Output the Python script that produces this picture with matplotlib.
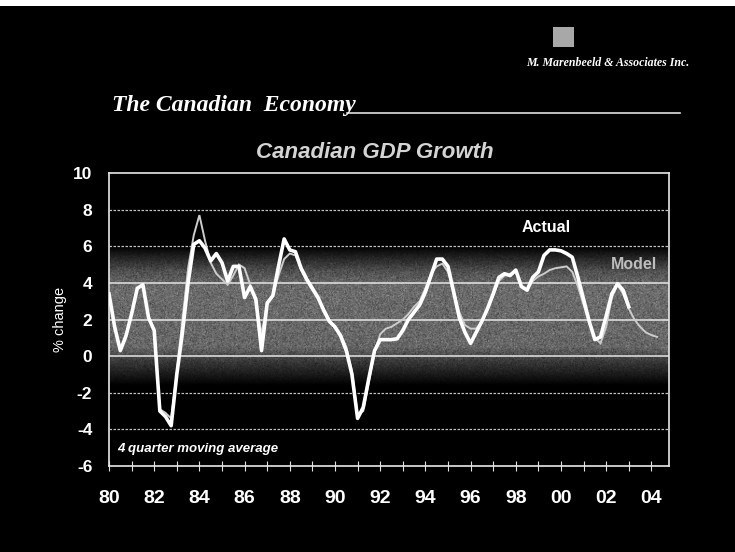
import numpy as np
import matplotlib
matplotlib.use("Agg")
import matplotlib.pyplot as plt
from matplotlib.lines import Line2D
from matplotlib.patches import Rectangle

# Four-quarter moving average of real GDP growth, % change
actual_start = 1980.0
actual = [
    3.4, 1.6, 0.3, 1.1,
    2.3, 3.7, 3.9, 2.1,
    1.4, -3.0, -3.3, -3.8,
    -1.0, 1.3, 4.0, 6.1,
    6.3, 5.9, 5.2, 5.6,
    5.1, 4.1, 4.9, 4.9,
    3.2, 3.8, 3.1, 0.3,
    2.9, 3.3, 4.9, 6.4,
    5.8, 5.7, 4.8, 4.2,
    3.7, 3.2, 2.5, 1.9,
    1.6, 1.1, 0.3, -1.0,
    -3.4, -2.8, -1.2, 0.3,
    0.9, 0.9, 0.9, 0.95,
    1.4, 2.0, 2.4, 2.8,
    3.5, 4.4, 5.3, 5.3,
    4.9, 3.5, 2.1, 1.3,
    0.7, 1.3, 1.9, 2.6,
    3.4, 4.3, 4.5, 4.4,
    4.7, 3.8, 3.6, 4.3,
    4.6, 5.5, 5.8, 5.8,
    5.75, 5.6, 5.4, 4.3,
    3.1, 1.9, 0.9, 1.05,
    2.2, 3.4, 3.95, 3.6,
    2.7,
]

model_start = 1982.25
model = [
    -2.9, -3.1, -3.4,
    -0.9, 2.0, 4.8, 6.6,
    7.7, 6.3, 5.1, 4.5,
    4.2, 3.9, 4.4, 5.0,
    4.8, 3.9, 2.9, 1.2,
    2.9, 3.3, 4.4, 5.3,
    5.6, 5.5, 4.7, 4.1,
    3.6, 3.1, 2.6, 2.0,
    1.5, 1.2, 0.5, -0.8,
    -3.2, -3.0, -1.4, 0.2,
    1.2, 1.5, 1.6, 1.8,
    2.0, 2.3, 2.7, 3.0,
    3.7, 4.5, 4.9, 5.05,
    4.6, 3.6, 2.4, 1.7,
    1.5, 1.5, 1.9, 2.5,
    3.3, 4.1, 4.4, 4.5,
    4.6, 3.8, 3.6, 4.1,
    4.35, 4.5, 4.7, 4.8,
    4.85, 4.9, 4.6, 3.8,
    2.8, 1.8, 1.0, 0.7,
    1.6, 3.2, 3.9, 3.4,
    2.6, 2.0, 1.6, 1.3,
    1.15, 1.05,
]

year_ticks = list(range(1980, 2005))
year_labels = ["80", "82", "84", "86", "88", "90", "92", "94", "96", "98", "00", "02", "04"]
y_ticks = [-6, -4, -2, 0, 2, 4, 6, 8, 10]

t_actual = actual_start + 0.25 * np.arange(len(actual))
t_model = model_start + 0.25 * np.arange(len(model))

W, H = 735, 552
fig = plt.figure(figsize=(W / 100, H / 100), dpi=100, facecolor="black")

# thin light strip along the top edge of the slide
fig.patches.append(Rectangle((0, 1 - 6 / H), 1, 6 / H, transform=fig.transFigure,
                             facecolor="white", edgecolor="none", zorder=0))

ax = fig.add_axes([109 / W, 1 - 466 / H, 560 / W, 293 / H])
ax.set_facecolor("black")
x0, x1 = 1980.0, 2004.78
ax.set_xlim(x0, x1)
ax.set_ylim(-6, 10)

# grey halftone-like band behind the lines
ny, nx = 400, 600
yy = np.linspace(10, -6, ny)
prof = np.interp(yy, [-6, -1.6, -0.3, 0.5, 3.8, 4.6, 6.0, 10],
                 [0, 0, 0.22, 0.40, 0.42, 0.32, 0.0, 0.0])
rng = np.random.default_rng(3)
grain = rng.normal(0, 0.10, (ny, nx))
band = np.clip(prof[:, None] * (1 + grain * 1.8), 0, 1)
ax.imshow(np.dstack([band] * 3), extent=[x0, x1, -6, 10], aspect="auto",
          interpolation="bilinear", zorder=0)

# horizontal grid
for yv in [8, 6, -2, -4]:
    ax.axhline(yv, color="#bdbdbd", lw=0.9, ls=(0, (2, 1.2)), zorder=1)
for yv in [4, 2, 0]:
    ax.axhline(yv, color="#e6e6e6", lw=1.1, zorder=1)

ax.plot(t_model, model, color="#cccccc", lw=1.4, zorder=3, solid_joinstyle="miter")
ax.plot(t_actual, actual, color="white", lw=2.6, zorder=4, solid_joinstyle="round")

for s in ax.spines.values():
    s.set_color("#e8e8e8")
    s.set_linewidth(1.2)

ax.set_xticks(year_ticks)
ax.set_xticklabels([year_labels[(y - 1980) // 2] if y % 2 == 0 else "" for y in year_ticks])
ax.tick_params(axis="x", direction="inout", length=7, width=0.8, color="#e0e0e0",
               pad=14, labelsize=14, labelcolor="white")
ax.set_yticks(y_ticks)
ax.set_yticklabels([str(v) for v in y_ticks])
ax.tick_params(axis="y", length=0, pad=12, labelsize=12.5, labelcolor="white")
for lab in ax.get_xticklabels() + ax.get_yticklabels():
    lab.set_fontweight("bold")
    lab.set_fontfamily("Liberation Sans")

ax.set_ylabel("% change", color="white", fontsize=10.5, family="Liberation Sans", labelpad=4)

ax.text(1998.27, 7.0, "Actual", color="white", fontsize=11.5, fontweight="bold",
        family="Liberation Sans", ha="left", va="center", zorder=5)
ax.text(2002.2, 5.0, "Model", color="#bdbdbd", fontsize=11.5, fontweight="bold",
        family="Liberation Sans", ha="left", va="center", zorder=5)
ax.text(1980.35, -5.08, "4 quarter moving average", color="white", fontsize=9.5,
        fontweight="bold", fontstyle="italic", family="Liberation Sans",
        ha="left", va="center", zorder=5)

# chart title
fig.text(375 / W, 1 - 153 / H, "Canadian GDP Growth", color="#d4d4d4", fontsize=16,
         fontweight="bold", fontstyle="italic", family="Liberation Sans",
         ha="center", va="center")

# slide heading with rule
fig.text(112 / W, 1 - 111 / H, "The Canadian  Economy", color="white", fontsize=17,
         fontweight="bold", fontstyle="italic", family="Liberation Serif",
         ha="left", va="baseline")
fig.lines.append(Line2D([347 / W, 680 / W], [1 - 113 / H, 1 - 113 / H],
                        transform=fig.transFigure, color="#e0e0e0", lw=1.2))

# company mark
fig.patches.append(Rectangle((553 / W, 1 - 47 / H), 21 / W, 20 / H,
                             transform=fig.transFigure, facecolor="#a8a8a8",
                             edgecolor="none", hatch="|||", zorder=2))
fig.text(526 / W, 1 - 63 / H, "M. Marenbeeld & Associates Inc.", color="white",
         fontsize=8.6, fontweight="bold", fontstyle="italic", family="Liberation Serif",
         ha="left", va="center")

fig.savefig("out.png", dpi=100, facecolor="black")
